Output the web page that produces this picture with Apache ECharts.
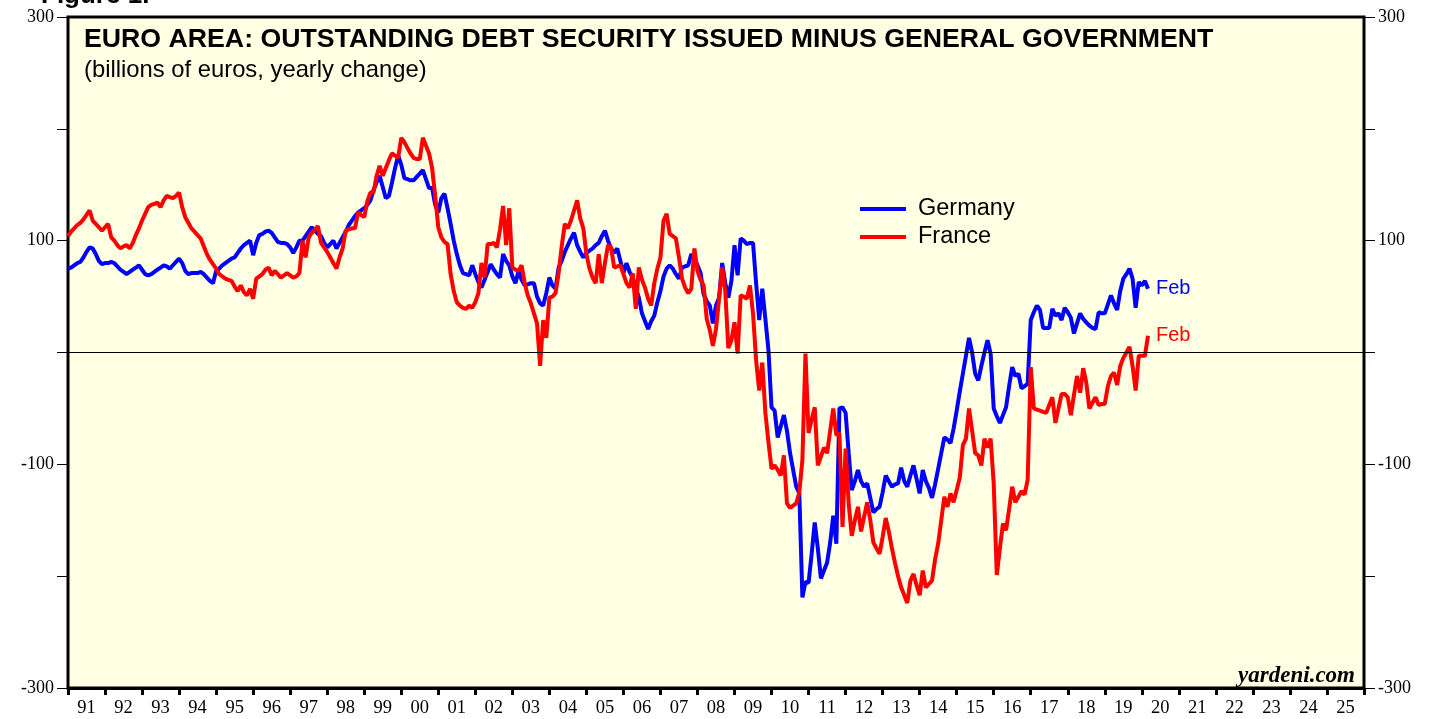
<!DOCTYPE html>
<html>
<head>
<meta charset="utf-8">
<script src="https://cdn.jsdelivr.net/npm/echarts@6/dist/echarts.min.js"></script>
<style>
  html, body { margin: 0; padding: 0; background: #fff; }
  #chart { width: 1440px; height: 719px; }
</style>
</head>
<body>
<div id="chart"></div>
<script>
  // monthly, Dec 1990 .. Feb 2020 (billions of euros, yearly change)
  const startYear = 1991
  const yearLabels = ['91', '92', '93', '94', '95', '96', '97', '98', '99', '00', '01', '02', '03', '04', '05', '06', '07', '08', '09', '10', '11', '12', '13', '14', '15', '16', '17', '18', '19', '20', '21', '22', '23', '24', '25']

  const germanyValues = [
    75, 76, 78, 80, 81, 85, 90, 94, 93, 88, 82, 79, 80, 80, 81, 80, 77, 74, 72, 70,
    72, 74, 76, 78, 74, 70, 69, 70, 72, 74, 76, 78, 77, 75, 78, 81, 84, 80, 73, 70,
    71, 71, 71, 72, 70, 67, 64, 62, 73, 75, 78, 80, 82, 84, 85, 89, 93, 96, 98, 100,
    87, 98, 105, 106, 108, 109, 107, 103, 99, 98, 98, 97, 94, 89, 94, 100, 100, 104, 108, 112,
    109, 106, 104, 98, 94, 97, 100, 93, 98, 103, 108, 114, 118, 122, 125, 127, 129, 132, 136, 145,
    152, 158, 148, 138, 140, 152, 165, 176, 168, 156, 155, 154, 154, 157, 160, 163, 155, 147, 147, 132,
    125, 138, 142, 129, 115, 100, 88, 78, 71, 70, 69, 78, 70, 63, 58, 65, 72, 79, 74, 70,
    67, 88, 82, 78, 68, 62, 73, 65, 60, 61, 62, 62, 50, 44, 42, 53, 67, 60, 57, 76,
    82, 90, 96, 102, 107, 96, 90, 85, 89, 91, 93, 96, 98, 104, 109, 100, 93, 89, 93, 82,
    71, 80, 72, 67, 58, 49, 35, 28, 21, 28, 33, 45, 55, 68, 75, 78, 75, 70, 66, 76,
    77, 78, 88, 84, 78, 71, 52, 46, 42, 26, 42, 49, 80, 62, 49, 64, 96, 69, 102, 100,
    97, 98, 98, 62, 29, 57, 30, 2, -49, -52, -76, -66, -56, -70, -90, -105, -120, -126, -219, -205,
    -206, -180, -152, -175, -202, -195, -188, -170, -146, -171, -50, -49, -54, -90, -123, -115, -105, -115, -120, -117,
    -130, -143, -140, -138, -125, -110, -115, -120, -118, -117, -103, -115, -120, -110, -101, -113, -126, -105, -115, -121,
    -130, -118, -104, -90, -76, -78, -81, -68, -52, -35, -19, -3, 13, 0, -19, -25, -12, 0, 11, -1,
    -50, -57, -63, -56, -49, -30, -13, -21, -19, -32, -30, -28, 29, 36, 42, 38, 22, 22, 22, 39,
    33, 35, 29, 40, 36, 31, 17, 26, 35, 30, 27, 24, 22, 21, 36, 35, 35, 43, 51, 44,
    38, 55, 66, 70, 75, 66, 40, 63, 60, 64, 57
  ]

  const franceValues = [
    104, 108, 111, 114, 116, 119, 123, 127, 118, 115, 112, 109, 112, 115, 103, 100, 96, 93, 95, 96,
    93, 98, 105, 111, 118, 124, 130, 132, 133, 134, 130, 136, 140, 139, 138, 140, 143, 130, 121, 116,
    111, 108, 105, 102, 95, 88, 83, 79, 75, 70, 68, 66, 65, 64, 59, 55, 60, 54, 51, 57,
    48, 66, 68, 70, 74, 76, 69, 73, 70, 67, 69, 71, 69, 67, 68, 71, 100, 85, 103, 107,
    110, 113, 98, 94, 90, 85, 80, 75, 85, 93, 109, 110, 111, 111, 125, 123, 121, 135, 143, 143,
    158, 167, 158, 165, 172, 178, 176, 174, 192, 188, 183, 178, 174, 173, 173, 192, 185, 178, 165, 140,
    112, 103, 99, 97, 70, 55, 45, 42, 40, 39, 42, 40, 45, 53, 80, 67, 97, 97, 98, 94,
    110, 131, 96, 129, 76, 74, 73, 78, 62, 51, 44, 35, 26, -12, 29, 13, 49, 50, 53, 71,
    95, 115, 111, 118, 127, 136, 120, 111, 88, 75, 67, 62, 88, 62, 80, 96, 94, 76, 77, 78,
    70, 62, 58, 71, 39, 76, 65, 58, 48, 42, 62, 75, 85, 118, 124, 106, 104, 102, 85, 66,
    58, 53, 57, 93, 73, 65, 60, 30, 20, 6, 21, 48, 76, 55, 4, 11, 27, -1, 51, 50,
    48, 60, 35, -7, -34, -9, -54, -80, -104, -101, -105, -110, -92, -135, -139, -137, -135, -125, -96, -1,
    -72, -60, -49, -101, -93, -85, -90, -70, -50, -74, -72, -156, -86, -135, -164, -150, -138, -160, -147, -134,
    -150, -170, -175, -180, -165, -148, -160, -175, -188, -200, -210, -217, -224, -204, -198, -208, -217, -195, -210, -207,
    -204, -185, -171, -150, -129, -138, -126, -134, -123, -112, -83, -77, -50, -70, -90, -92, -101, -77, -85, -77,
    -117, -199, -175, -153, -159, -140, -120, -134, -129, -124, -127, -114, -13, -50, -51, -52, -53, -54, -47, -40,
    -63, -50, -37, -37, -40, -56, -38, -21, -36, -14, -27, -50, -45, -40, -47, -46, -46, -30, -21, -18,
    -29, -12, -5, 0, 5, -12, -34, -3, -3, -3, 15
  ]

  const toPoints = vals => vals.map((v, i) => [startYear + i / 12, v])

  const chart = echarts.init(document.getElementById('chart'))
  const serif = 'Liberation Serif, Times New Roman, serif'
  const sans = 'Liberation Sans, Arial, sans-serif'

  const yLabel = v => (Math.abs(v) === 100 || Math.abs(v) === 300) ? String(v) : ''

  let option = {
    animation: false,
    backgroundColor: '#ffffff',
    title: [{
      text: 'Figure 1.',
      left: 36,
      top: -22,
      textStyle: { fontFamily: sans, fontSize: 26, fontWeight: 'bold', color: '#000' }
    }, {
      text: 'EURO AREA: OUTSTANDING DEBT SECURITY ISSUED MINUS GENERAL GOVERNMENT',
      left: 79,
      top: 21,
      textStyle: { fontFamily: sans, fontSize: 26.7, fontWeight: 'bold', color: '#000' }
    }, {
      text: '(billions of euros, yearly change)',
      left: 79,
      top: 53,
      textStyle: { fontFamily: sans, fontSize: 23.8, fontWeight: 'normal', color: '#000' }
    }, {
      text: 'yardeni.com',
      right: 80,
      top: 660,
      textStyle: { fontFamily: serif, fontSize: 23, fontWeight: 'bold', fontStyle: 'italic', color: '#000' }
    }],
    legend: {
      orient: 'vertical',
      left: 855,
      top: 192,
      itemWidth: 46,
      itemHeight: 4,
      itemGap: 4,
      icon: 'rect',
      textStyle: { fontFamily: sans, fontSize: 23.5, color: '#000', padding: [0, 0, 0, 7] },
      data: ['Germany', 'France']
    },
    grid: {
      left: 68,
      right: 76,
      top: 17,
      bottom: 31,
      show: true,
      backgroundColor: '#ffffe4',
      borderColor: '#000',
      borderWidth: 3
    },
    xAxis: [{
      type: 'value',
      min: 1991,
      max: 2026,
      show: false
    }, {
      type: 'category',
      position: 'bottom',
      data: yearLabels,
      boundaryGap: true,
      axisLine: { show: true, onZero: false, lineStyle: { color: '#000', width: 3 } },
      axisTick: { show: true, length: 7, inside: false, lineStyle: { color: '#000', width: 3 } },
      axisLabel: { fontFamily: serif, fontSize: 18.5, color: '#000', margin: 11 },
      splitLine: { show: false }
    }],
    yAxis: [{
      type: 'value',
      position: 'left',
      min: -300,
      max: 300,
      interval: 100,
      axisLine: { show: false },
      axisTick: { show: true, length: 11, lineStyle: { color: '#000', width: 1 } },
      axisLabel: { formatter: yLabel, fontFamily: serif, fontSize: 18, color: '#000', margin: 14 },
      splitLine: { show: false }
    }, {
      type: 'value',
      position: 'right',
      min: -300,
      max: 300,
      interval: 100,
      axisLine: { show: false },
      axisTick: { show: true, length: 11, lineStyle: { color: '#000', width: 1 } },
      axisLabel: { formatter: yLabel, fontFamily: serif, fontSize: 18, color: '#000', margin: 14 },
      splitLine: { show: false }
    }],
    series: [{
      name: 'Germany',
      type: 'line',
      xAxisIndex: 0,
      yAxisIndex: 0,
      data: toPoints(germanyValues),
      showSymbol: false,
      color: '#0000ff',
      lineStyle: { width: 4, color: '#0000ff' },
      endLabel: { show: true, formatter: 'Feb', color: '#0000ff', fontFamily: sans, fontSize: 20, distance: 8 },
      markLine: {
        silent: true,
        symbol: 'none',
        label: { show: false },
        lineStyle: { color: '#000', width: 1, type: 'solid' },
        data: [{ yAxis: 0 }]
      }
    }, {
      name: 'France',
      type: 'line',
      xAxisIndex: 0,
      yAxisIndex: 0,
      data: toPoints(franceValues),
      showSymbol: false,
      color: '#ff0000',
      lineStyle: { width: 4, color: '#ff0000' },
      endLabel: { show: true, formatter: 'Feb', color: '#ff0000', fontFamily: sans, fontSize: 20, distance: 8 }
    }]
  }
  chart.setOption(option)
</script>
</body>
</html>
